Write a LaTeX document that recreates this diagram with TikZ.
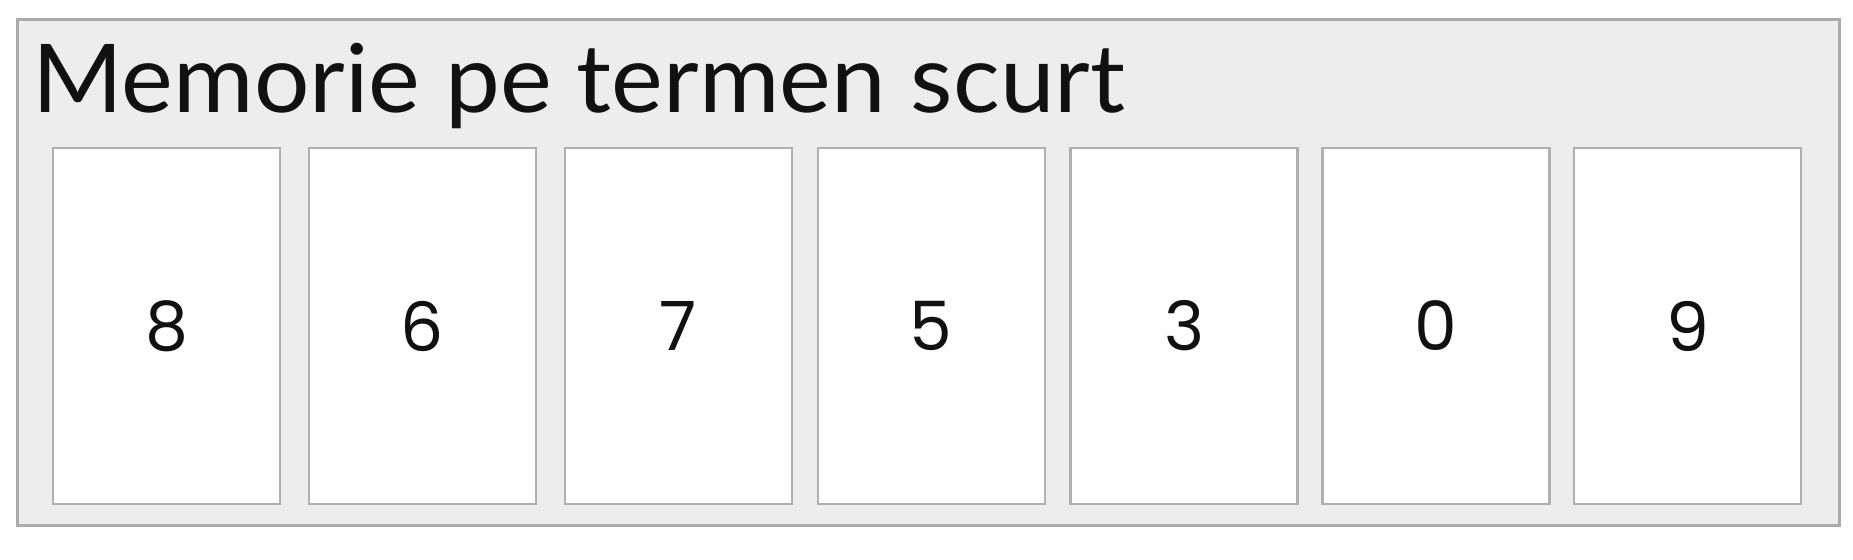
\documentclass[tikz,border=0pt]{standalone}
\usepackage{fontspec}
\setmainfont{Lato}
\newfontfamily\headfont[FakeStretch=1.03]{Lato}
\newfontfamily\digitfont{Poppins}
\definecolor{panelfill}{HTML}{EDEDED}
\definecolor{panelline}{HTML}{ABABAB}
\definecolor{cellline}{HTML}{B0B0B0}
\definecolor{inktext}{HTML}{111111}
\tikzset{
  panel/.style={draw=panelline, fill=panelfill, line width=1.5pt, minimum width=911pt, minimum height=253pt, inner sep=0pt},
  cell/.style={draw=cellline, fill=white, line width=1.3pt, minimum width=113.5pt, minimum height=178pt, inner sep=0pt, font=\digitfont\fontsize{34}{40}\selectfont, text=inktext},
  heading/.style={anchor=base west, inner sep=0pt, font=\headfont\fontsize{47.5}{54}\selectfont, text=inktext}
}
\begin{document}
\begin{tikzpicture}[x=0.5pt,y=-0.5pt]
\useasboundingbox (0,0) rectangle (1853,560);
\fill[white] (0,0) rectangle (1853,560);
\node[panel] (frame) at (928,273) {};
\node[heading] (title) at (32,113) {Memorie pe termen scurt};
\foreach \d/\cx [count=\i from 0] in {8/166.6,6/422.5,7/678.4,5/931.3,3/1184.2,0/1435.9,9/1687.6} {
  \node[cell] (c\i) at (\cx,326) {\d};
}
\end{tikzpicture}
\end{document}
